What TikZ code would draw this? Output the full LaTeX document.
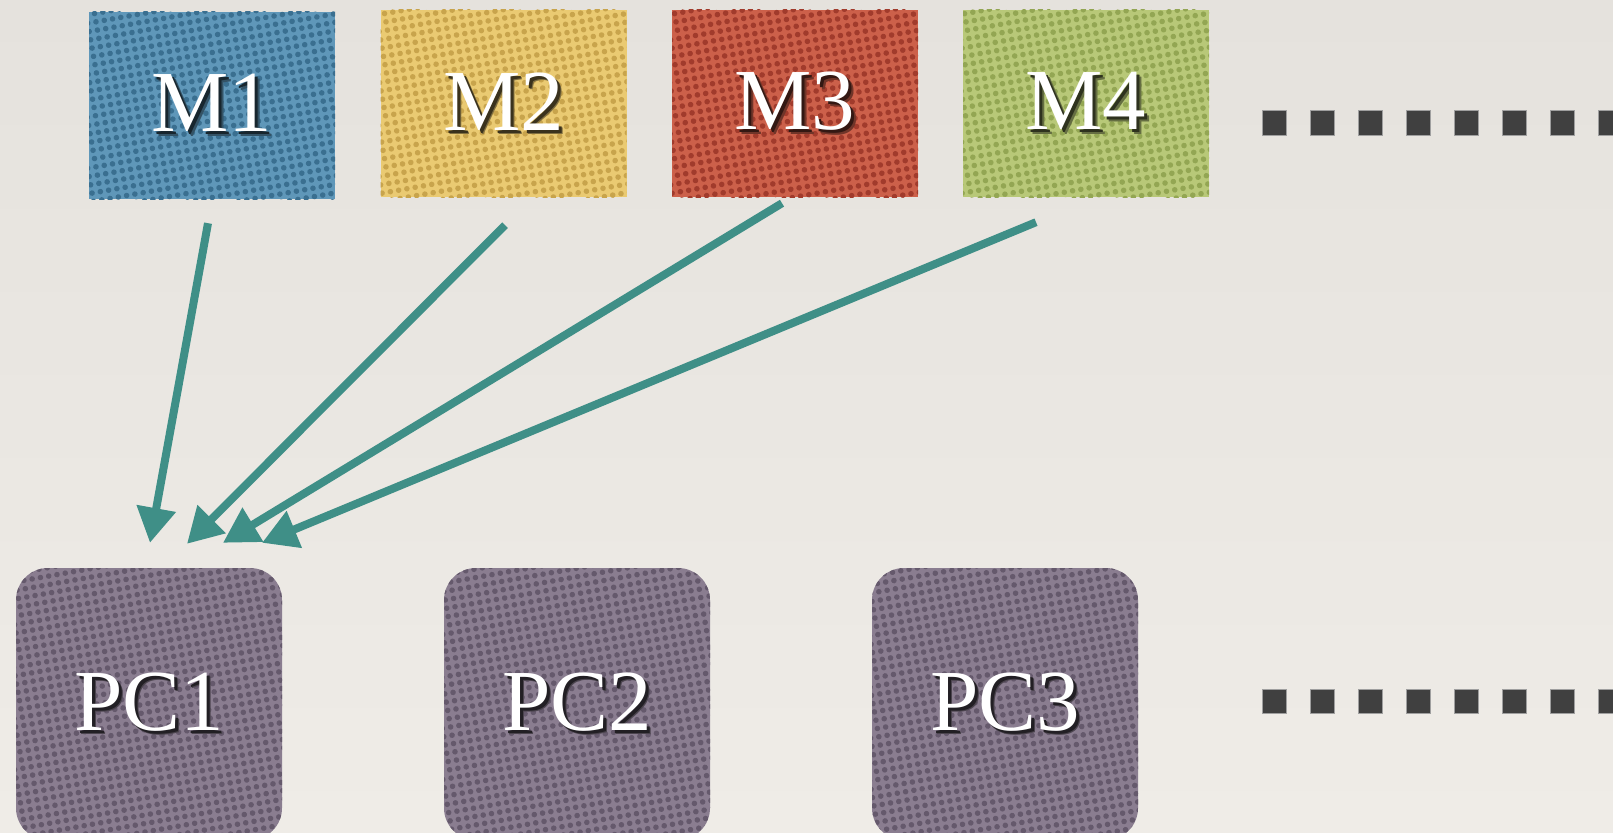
\documentclass[tikz,border=0pt]{standalone}
\usepackage{fontspec}
\setmainfont{Liberation Serif}
\usetikzlibrary{arrows.meta,calc,patterns.meta}

\definecolor{paperTop}{HTML}{E5E2DD}
\definecolor{paperBot}{HTML}{EFECE7}
\definecolor{mblue}{HTML}{5F97B9}
\definecolor{mblueDot}{HTML}{3A6F90}
\definecolor{myellow}{HTML}{EACA72}
\definecolor{myellowDot}{HTML}{C8A44C}
\definecolor{mred}{HTML}{CC604A}
\definecolor{mredDot}{HTML}{A13B2C}
\definecolor{mgreen}{HTML}{B8C878}
\definecolor{mgreenDot}{HTML}{93A653}
\definecolor{pcpurple}{HTML}{8A7D90}
\definecolor{pcpurpleDot}{HTML}{65596C}
\definecolor{teal}{HTML}{3F8F87}
\definecolor{ellip}{HTML}{404040}

% halftone dot screen laid over the coloured boxes
\tikzdeclarepattern{
  name=halftone,
  type=uncolored,
  bounding box={(-4.2pt,-4.2pt) and (4.2pt,4.2pt)},
  tile size={(8.4pt,8.4pt)},
  tile transformation={rotate=10},
  code={\pgfpathcircle{\pgfpointorigin}{2.8pt}\pgfusepath{fill}}
}

% white label with a soft dark drop shadow, lowered by #3
\newcommand\shadowlabel[3][0pt]{%
  \raisebox{-#1}{%
  \rlap{\kern4.5pt\raisebox{-4.5pt}{\textcolor{#2!55!black}{#3}}}%
  \rlap{\kern3pt\raisebox{-3pt}{\textcolor{#2!25!black}{#3}}}%
  \textcolor{white}{#3}}}

\tikzset{
  mbox/.style n args={2}{
    rectangle, inner sep=0pt,
    minimum width=246pt, minimum height=187pt,
    preaction={fill=#1}, pattern=halftone, pattern color=#2,
    font=\fontsize{87}{90}\selectfont},
  pcbox/.style={
    rectangle, rounded corners=32pt, inner sep=0pt,
    minimum width=266pt, minimum height=272pt,
    preaction={fill=pcpurple}, pattern=halftone, pattern color=pcpurpleDot,
    font=\fontsize{87}{90}\selectfont},
  feed/.style={draw=teal, line width=8pt,
    -{Triangle[length=35pt,width=38pt]}},
  ellipsisdot/.style={rectangle, inner sep=0pt, minimum size=24pt,
    fill=ellip, draw=gray!75, line width=1pt}
}

\begin{document}
\begin{tikzpicture}[x=1pt,y=-1pt]
  % paper background
  \clip (0,0) rectangle (1613,832);
  \shade[top color=paperTop, bottom color=paperBot] (0,0) rectangle (1613,832);

  % upper row
  \node[mbox={mblue}{mblueDot}]     (m1) at (212,105.5) {\shadowlabel[5pt]{mblue}{M1}};
  \node[mbox={myellow}{myellowDot}] (m2) at (503.5,103.5) {\shadowlabel[5pt]{myellow}{M2}};
  \node[mbox={mred}{mredDot}]       (m3) at (795,103.5) {\shadowlabel[5pt]{mred}{M3}};
  \node[mbox={mgreen}{mgreenDot}]   (m4) at (1086,103.5) {\shadowlabel[5pt]{mgreen}{M4}};

  % lower row
  \node[pcbox] (pc1) at (149,704) {\shadowlabel{pcpurple}{PC1}};
  \node[pcbox] (pc2) at (577,704) {\shadowlabel{pcpurple}{PC2}};
  \node[pcbox] (pc3) at (1005,704) {\shadowlabel{pcpurple}{PC3}};

  % continuation marks
  \foreach \i in {0,...,7} {
    \node[ellipsisdot] (top\i) at ({1274+48*\i},123) {};
    \node[ellipsisdot] (bot\i) at ({1274+48*\i},701) {};
  }

  % every upper box feeds PC1
  \draw[feed] ($(m1.south)+(-4,24)$)  -- ($(pc1.north)+(1,-25)$);
  \draw[feed] ($(m2.south)+(1.5,28)$) -- ($(pc1.north)+(38,-24)$);
  \draw[feed] ($(m3.south)+(-13,6)$)  -- ($(pc1.north)+(74,-25)$);
  \draw[feed] ($(m4.south)+(-50,25)$) -- ($(pc1.north)+(113,-25)$);
\end{tikzpicture}
\end{document}
